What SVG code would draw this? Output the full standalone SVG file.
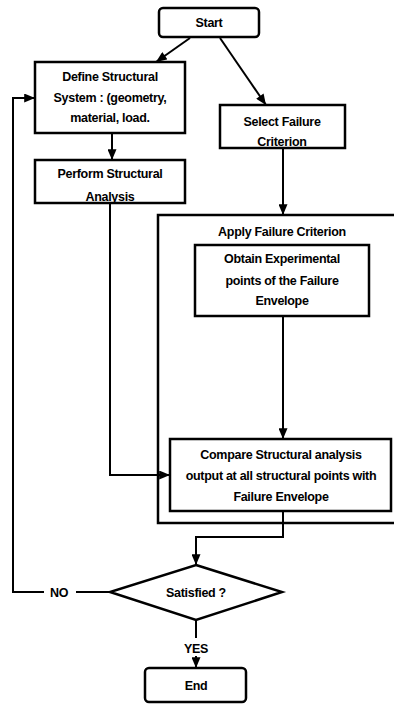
<svg xmlns="http://www.w3.org/2000/svg" width="394" height="704" viewBox="0 0 394 704">
<style>
.box{fill:#fff;stroke:#000;stroke-width:2.5}
.frame{fill:none;stroke:#000;stroke-width:2.5}
.ln{fill:none;stroke:#000;stroke-width:2}
.arr{marker-end:url(#ah)}
text{font-family:"Liberation Sans",Arial,sans-serif;font-weight:bold;font-size:12.5px;text-anchor:middle;fill:#000;letter-spacing:-0.3px}
</style>
<defs>
<marker id="ah" viewBox="0 0 12 10" refX="12" refY="5" markerWidth="12" markerHeight="9" markerUnits="userSpaceOnUse" orient="auto">
<path d="M0,0 L12,5 L0,10 Z" fill="#000"/>
</marker>
</defs>
<rect width="394" height="704" fill="#fff"/>
<g id="apply">
<rect class="frame" x="158" y="215" width="260" height="308"/>
<text x="282" y="236">Apply Failure Criterion</text>
</g>
<g id="connectors">
<line class="ln arr" x1="190" y1="38" x2="156" y2="62"/>
<line class="ln arr" x1="220" y1="38" x2="266" y2="105"/>
<line class="ln arr" x1="112" y1="133" x2="112" y2="160"/>
<line class="ln arr" x1="283" y1="148" x2="283" y2="215"/>
<polyline class="ln arr" points="110,203 110,475 170,475"/>
<line class="ln arr" x1="283" y1="316" x2="283" y2="439"/>
<polyline class="ln arr" points="283,511 283,537 196,537 196,565"/>
<polyline class="ln" points="110,592 76,592"/>
<polyline class="ln arr" points="44,592 13,592 13,98 35,98"/>
<line class="ln" x1="196" y1="620" x2="196" y2="638"/>
<line class="ln arr" x1="196" y1="656" x2="196" y2="668"/>
</g>
<g id="start">
<rect class="box" x="159" y="8" width="100" height="29" rx="4"/>
<text x="209" y="27">Start</text>
</g>
<g id="define">
<rect class="box" x="35" y="62" width="150" height="71"/>
<text x="110" y="81">Define Structural</text>
<text x="110" y="102">System : (geometry,</text>
<text x="110" y="122">material, load.</text>
</g>
<g id="select">
<rect class="box" x="220" y="105" width="125" height="43"/>
<text x="282" y="126">Select Failure</text>
<text x="282" y="146">Criterion</text>
</g>
<g id="perform">
<rect class="box" x="35" y="160" width="150" height="43"/>
<text x="110" y="178">Perform Structural</text>
<text x="110" y="201">Analysis</text>
</g>
<g id="obtain">
<rect class="box" x="195" y="245" width="174" height="71"/>
<text x="282" y="263">Obtain Experimental</text>
<text x="282" y="285">points of the Failure</text>
<text x="282" y="305">Envelope</text>
</g>
<g id="compare">
<rect class="box" x="170" y="439" width="221" height="72"/>
<text x="281" y="459">Compare Structural analysis</text>
<text x="281" y="480">output at  all structural points with</text>
<text x="281" y="501">Failure Envelope</text>
</g>
<g id="decision">
<polygon class="box" points="196,565 282,592 196,620 110,592"/>
<text x="196" y="597">Satisfied ?</text>
</g>
<g id="labels">
<text x="59" y="597">NO</text>
<text x="196" y="653">YES</text>
</g>
<g id="end">
<rect class="box" x="145" y="668" width="101" height="34" rx="4"/>
<text x="196" y="690">End</text>
</g>
</svg>
